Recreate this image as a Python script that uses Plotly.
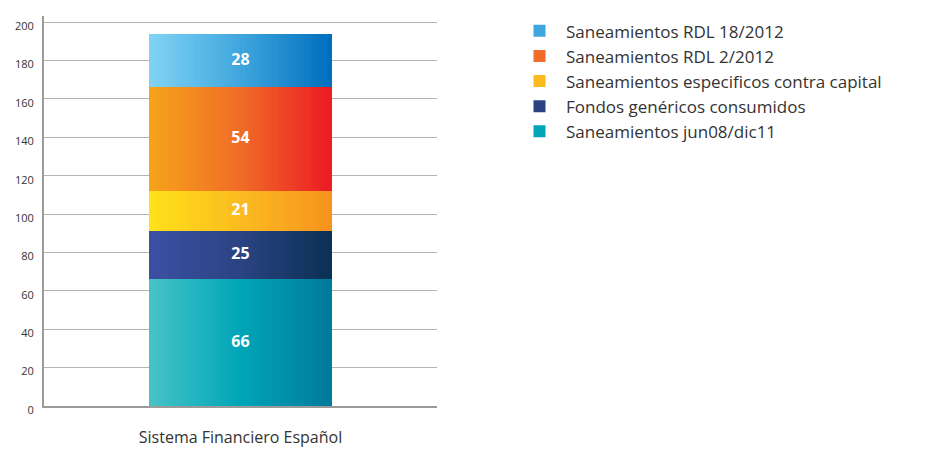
import numpy as np
import plotly.graph_objects as go

# data, bottom to top of the stack
categoria = "Sistema Financiero Español"
series = [
    "Saneamientos jun08/dic11",
    "Fondos genéricos consumidos",
    "Saneamientos especificos contra capital",
    "Saneamientos RDL 2/2012",
    "Saneamientos RDL 18/2012",
]
valores = [66, 25, 21, 54, 28]

# left -> mid -> right colour of each horizontal gradient
grad_left = ["#44c2c6", "#3b50a2", "#ffe01a", "#f7a21b", "#80d2f5"]
grad_mid = ["#00a5b8", "#2b4382", "#fbbb1f", "#f06c27", "#3fa6dd"]
grad_right = ["#007b9c", "#0b3156", "#f7941e", "#ec1c24", "#006fbe"]

N_SLICES = 40
BAR_WIDTH = 0.463
FONT = "Open Sans"
# page body has an 8px margin, so the figure is a bit smaller than the window
W, H = 923, 443


def hex_rgb(h):
    h = h.lstrip("#")
    return np.array([int(h[i:i + 2], 16) for i in (0, 2, 4)], dtype=float)


def gradient(c0, c1, c2, n):
    a, b, c = hex_rgb(c0), hex_rgb(c1), hex_rgb(c2)
    out = []
    for t in np.linspace(0, 1, n):
        if t < 0.5:
            rgb = a + (b - a) * (t / 0.5)
        else:
            rgb = b + (c - b) * ((t - 0.5) / 0.5)
        out.append("rgb(%d,%d,%d)" % tuple(np.round(rgb)))
    return out


slice_w = BAR_WIDTH / N_SLICES
slice_x = -BAR_WIDTH / 2 + slice_w * (np.arange(N_SLICES) + 0.5)

fig = go.Figure()
for name, val, c0, c1, c2 in zip(series, valores, grad_left, grad_mid, grad_right):
    fig.add_trace(go.Bar(
        x=slice_x,
        y=[val] * N_SLICES,
        width=slice_w * 1.02,
        name=name,
        marker=dict(color=gradient(c0, c1, c2, N_SLICES), line_width=0),
        showlegend=False,
        hoverinfo="skip",
    ))
    # legend entry only
    fig.add_trace(go.Bar(
        x=[None], y=[None],
        name=name,
        marker=dict(color=c1, line_width=0),
    ))

# value labels in the middle of each segment
tops = np.cumsum(valores)
mids = tops - np.array(valores) / 2
fig.add_trace(go.Scatter(
    x=[0] * len(valores),
    y=mids,
    mode="text",
    text=[str(v) for v in valores],
    textfont=dict(family=FONT, size=16, color="white", weight="bold"),
    showlegend=False,
    hoverinfo="skip",
))

fig.update_layout(
    width=W, height=H,
    barmode="stack",
    bargap=0,
    plot_bgcolor="white",
    paper_bgcolor="white",
    margin=dict(l=36, r=494, t=8, b=45, autoexpand=False),
    font=dict(family=FONT, color="#333333"),
    legend=dict(
        xref="container", yref="container",
        x=505 / W, y=0.988,
        xanchor="left", yanchor="top",
        traceorder="reversed",
        font=dict(size=17, color="#333333"),
        itemwidth=43,
        tracegroupgap=0,
    ),
)
fig.update_xaxes(
    range=[-0.5, 0.5],
    tickvals=[0], ticktext=[""],
    showgrid=False,
    showline=True, linecolor="#9a9a9a", linewidth=2,
    zeroline=False,
    automargin=False,
    title=dict(text=categoria, font=dict(size=16, color="#333333"), standoff=22),
)
fig.update_yaxes(
    range=[0, 203.2],
    tickvals=list(range(0, 201, 20)),
    showgrid=True, gridcolor="#b4b4b4", gridwidth=1,
    showline=True, linecolor="#9a9a9a", linewidth=2,
    zeroline=False,
    automargin=False,
    ticks="",
    tickfont=dict(size=11, color="#333333"),
    ticklabelshift=4,
    ticklabelstandoff=6,
)

fig.write_html("out.html")
